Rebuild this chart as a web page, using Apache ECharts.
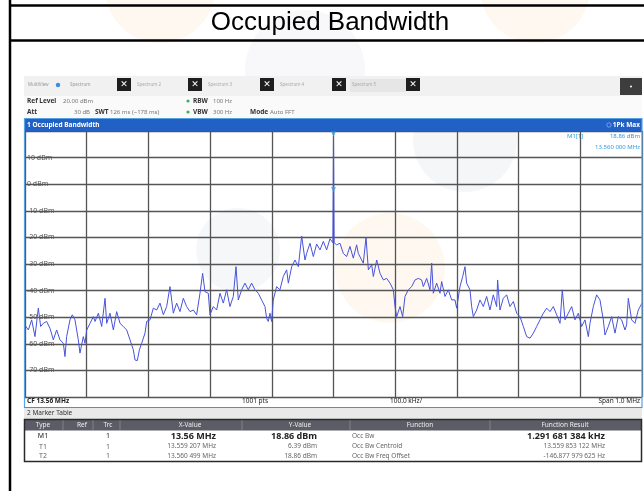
<!DOCTYPE html>
<html>
<head>
<meta charset="utf-8">
<title>Occupied Bandwidth</title>
<script src="https://cdn.jsdelivr.net/npm/echarts@6/dist/echarts.min.js"></script>
<style>
  html, body { margin: 0; padding: 0; background: #fff; }
  #chart { width: 644px; height: 491px; }
</style>
</head>
<body>
<div id="chart"></div>
<script>
// trace 1, offset from CF 13.56 MHz in kHz, level in dBm
const freqKHz = [
  -500, -494.6, -489.2, -483.8, -478.4, -474.6, -470.3, -464.9, -459.5, -454.1,
  -448.7, -443.3, -437.9, -435.2, -432.5, -427.1, -423.3, -419, -413.6, -410.9,
  -405.5, -402.8, -400, -394.6, -389.2, -386.5, -381.1, -375.7, -370.3, -367.6,
  -362.2, -356.8, -351.4, -346, -340.6, -335.2, -332.5, -329.8, -324.4, -321.7,
  -317.9, -314.7, -310.9, -305.5, -302.8, -297.4, -292, -286.6, -281.2, -275.8,
  -270.4, -265, -259.6, -254.2, -248.8, -243.4, -238, -232.6, -227.2, -221.8,
  -216.4, -212.1, -208.3, -202.9, -200.2, -194.8, -189.4, -184, -178.6, -173.2,
  -167.8, -162.4, -158, -154.3, -148.9, -143.5, -138.1, -132.7, -127.3, -121.9,
  -116.5, -111.1, -108.4, -105.7, -103, -100.3, -97.6, -92.2, -86.8, -81.4,
  -75.9, -73.2, -67.8, -62.4, -57, -51.6, -46.2, -43.5, -38.1, -32.7,
  -27.3, -21.9, -16.5, -11.1, -5.7, -1, 0, 1, 5.1, 10.5,
  15.9, 21.3, 26.7, 32.1, 37.5, 40.2, 45.6, 48.3, 52.7, 56.5,
  61.9, 64.6, 70, 75.4, 80.8, 86.2, 91.6, 97, 99.7, 102.4,
  107.8, 112.1, 115.9, 121.3, 126.7, 132.1, 137.5, 142.9, 145.6, 151,
  156.4, 159.1, 161.8, 167.2, 172.6, 175.3, 180.7, 186.1, 191.5, 196.9,
  199.6, 205, 209.4, 213.1, 215.8, 221.2, 223.9, 226.6, 232, 237.4,
  242.8, 248.2, 253.6, 259, 264.4, 266, 269.8, 275.2, 280.6, 286,
  291.5, 296.9, 302.3, 307.7, 313.1, 318.5, 323.9, 329.3, 334.7, 340.1,
  345.5, 350.9, 356.3, 361.7, 367.1, 370.8, 375.2, 380.6, 386, 391.4,
  396.8, 402.2, 407.6, 413, 415.7, 421.1, 426.5, 431.9, 437.3, 440,
  445.4, 450.8, 456.2, 461.6, 467, 472.4, 475.1, 477.8, 483.2, 488.6,
  494, 500
];
const levelDbm = [
  -53, -54.8, -51, -57.3, -46.6, -53.5, -52.3, -51.6, -54.2, -58.5,
  -54.8, -58.5, -59.8, -64.8, -57.3, -51, -49.1, -51, -58.5, -63.5,
  -57.3, -59.8, -54.8, -52.3, -49.8, -51.6, -48.5, -53.5, -42.9, -52.3,
  -48.5, -54.8, -47.9, -52.3, -53.5, -54.8, -54.2, -58.5, -62.3, -66.1,
  -66.3, -62.3, -59.8, -56, -51.6, -51, -46.6, -47.3, -44.7, -49.1,
  -46, -38.5, -48.5, -44.7, -47.9, -42.9, -46, -47.9, -47.3, -49.1,
  -41, -33.5, -40.4, -41, -49.1, -46, -47.3, -41, -44.7, -39.7,
  -46, -42.2, -31, -43.5, -39.7, -37.2, -39.7, -37.2, -39.7, -41,
  -43.5, -46, -50.4, -51.6, -48.5, -51.6, -43.5, -38.5, -39.7, -34.7,
  -32.2, -37.2, -31, -28.5, -31, -19.5, -28.5, -26, -22.2, -27.2,
  -22.5, -24.7, -21.5, -24.7, -20.5, -22, 18.86, -22, -22.8, -22.2,
  -26, -27.2, -23.4, -27.8, -22.8, -26, -28.5, -29.7, -20, -32.2,
  -30.3, -34.7, -28.5, -33.5, -36, -35.4, -37.2, -39.7, -46, -49.8,
  -46, -49.8, -42.2, -39.7, -38.5, -36, -35.4, -36, -38.5, -35.4,
  -39.7, -29.7, -41, -37.2, -41, -36.6, -42.2, -39.7, -43.5, -43.5,
  -46.6, -38.5, -34.7, -31, -37.2, -39.7, -46, -49.8, -47.3, -43.5,
  -46, -42.2, -47.3, -41.6, -46, -36, -47.3, -42.9, -41.6, -46,
  -44.1, -48.5, -49.8, -53.5, -57.3, -57.9, -56, -53.5, -51, -48.5,
  -46.6, -47.9, -46, -49.1, -52.3, -39.7, -51, -48.5, -46, -51,
  -48.5, -53.5, -51, -57.3, -52.3, -46, -41.6, -43.5, -51, -56.7,
  -53.5, -49.8, -56, -49.8, -51, -54.8, -52.9, -42.9, -51, -52.3,
  -47.3, -44.7
];
// marker symbols on the carrier (kHz, dBm) as they sit in the picture
const markerKHz = [0, 0];
const markerDbm = [18.86, -2];

// marker table
const tableHead = ['Type', 'Ref', 'Trc', 'X-Value', 'Y-Value', 'Function', 'Function Result'];
const rowType = ['M1', 'T1', 'T2'];
const rowTrc = ['1', '1', '1'];
const rowX = ['13.56 MHz', '13.559 207 MHz', '13.560 499 MHz'];
const rowY = ['18.86 dBm', '6.39 dBm', '18.86 dBm'];
const rowFunc = ['Occ Bw', 'Occ Bw Centroid', 'Occ Bw Freq Offset'];
const rowResult = ['1.291 681 384 kHz', '13.559 853 122 MHz', '-146.877 979 625 Hz'];

const FONT = '"Noto Sans", "Open Sans", sans-serif';
const chart = echarts.init(document.getElementById('chart'));

function txt(x, y, s, o) {
  o = o || {};
  return {
    type: 'text', x: x, y: y, z: o.z || 20,
    style: {
      text: s,
      fill: o.color || '#444',
      fontSize: o.size || 7,
      fontWeight: o.bold ? 'bold' : 'normal',
      fontFamily: o.family || FONT,
      align: o.align || 'left',
      verticalAlign: 'middle'
    }
  };
}
function rect(x, y, w, h, fill, stroke, lw, z) {
  return {
    type: 'rect', z: z == null ? 5 : z,
    shape: { x: x, y: y, width: w, height: h },
    style: { fill: fill || 'none', stroke: stroke || 'none', lineWidth: lw || 1 }
  };
}
function line(x1, y1, x2, y2, color, lw, z) {
  return {
    type: 'line', z: z == null ? 6 : z,
    shape: { x1: x1, y1: y1, x2: x2, y2: y2 },
    style: { stroke: color, lineWidth: lw }
  };
}
function circ(cx, cy, r, fill) {
  return { type: 'circle', z: -10, shape: { cx: cx, cy: cy, r: r }, style: { fill: fill } };
}

const g = [];
// faint watermark behind the page
g.push(circ(160, -12, 55, '#fef8f1'));
g.push(circ(535, -12, 55, '#fef8f1'));
g.push(circ(305, 70, 60, '#f8f8fa'));
g.push(circ(465, 140, 52, '#f5f6f8'));
g.push(circ(390, 268, 55, '#fef8f1'));
g.push(circ(238, 250, 42, '#f6f7f9'));

// document table lines + title
g.push(line(10, 0, 10, 491, '#000', 2.5));
g.push(line(10, 5.5, 644, 5.5, '#000', 2.5));
g.push(line(10, 40.5, 644, 40.5, '#000', 2.5));
g.push(txt(330, 23, 'Occupied Bandwidth', { size: 26, color: '#000', align: 'center', family: '"Liberation Sans", Arial, sans-serif' }));

// instrument toolbar
g.push(rect(24, 76, 618, 20, '#f1f1f1', null, 1, 1));
g.push(rect(24, 96, 618, 22, '#fafafa', null, 1, 1));
g.push(txt(28, 85, 'MultiView', { size: 4.5, color: '#999' }));
g.push({ type: 'circle', z: 20, shape: { cx: 58, cy: 85, r: 2.2 }, style: { fill: '#3a8ee0' } });
g.push(txt(70, 85, 'Spectrum', { size: 4.5, color: '#999' }));
const tabX = [117, 188, 260, 332, 406];
const tabName = ['Spectrum 2', 'Spectrum 3', 'Spectrum 4', 'Spectrum 5'];
g.push(rect(350, 79, 56, 13, '#e6e6e6', null, 1, 3));
tabX.forEach(function (x, i) {
  g.push(rect(x, 78, 14, 13, '#1e1e1e', null, 1, 10));
  g.push(txt(x + 7, 84.5, '✕', { size: 9, color: '#fff', bold: true, align: 'center', family: '"DejaVu Sans", sans-serif' }));
  if (i < tabName.length) g.push(txt(x + 20, 85, tabName[i], { size: 4.5, color: '#aaa' }));
});
g.push(rect(620, 78, 22, 17, '#3d3d3d', null, 1, 10));
g.push({ type: 'circle', z: 20, shape: { cx: 631, cy: 86.5, r: 1 }, style: { fill: '#fff' } });

g.push(txt(27, 101, 'Ref Level', { size: 6.5, color: '#333', bold: true }));
g.push(txt(63, 101, '20.00 dBm', { size: 6, color: '#777' }));
g.push(txt(27, 112, 'Att', { size: 6.5, color: '#333', bold: true }));
g.push(txt(90, 112, '30 dB', { size: 6, color: '#777', align: 'right' }));
g.push(txt(95, 112, 'SWT', { size: 6.5, color: '#333', bold: true }));
g.push(txt(110, 112, '126 ms (~178 ms)', { size: 6, color: '#777' }));
g.push({ type: 'circle', z: 20, shape: { cx: 188, cy: 101, r: 1.6 }, style: { fill: '#3cb05a' } });
g.push({ type: 'circle', z: 20, shape: { cx: 188, cy: 112, r: 1.6 }, style: { fill: '#3cb05a' } });
g.push(txt(193, 101, 'RBW', { size: 6.5, color: '#333', bold: true }));
g.push(txt(213, 101, '100 Hz', { size: 6, color: '#777' }));
g.push(txt(193, 112, 'VBW', { size: 6.5, color: '#333', bold: true }));
g.push(txt(213, 112, '300 Hz', { size: 6, color: '#777' }));
g.push(txt(250, 112, 'Mode', { size: 6.5, color: '#333', bold: true }));
g.push(txt(270, 112, 'Auto FFT', { size: 6, color: '#777' }));

// window title bar
g.push(rect(24, 118.5, 618, 12.5, '#2160c4', null, 1, 10));
g.push(txt(27, 125, '1 Occupied Bandwidth', { size: 6.5, color: '#fff', bold: true }));
g.push({ type: 'circle', z: 20, shape: { cx: 609, cy: 125, r: 2.2 }, style: { fill: 'none', stroke: '#7fb0ee', lineWidth: 0.8 } });
g.push(txt(640, 125, '1Pk Max', { size: 6.5, color: '#fff', bold: true, align: 'right' }));
g.push(rect(24.5, 118.5, 617.5, 289, null, '#58a2e2', 1.2, 12));

// marker readout
g.push(txt(567, 136, 'M1[1]', { size: 6, color: '#2d9be0' }));
g.push(txt(640, 136, '18.86 dBm', { size: 6, color: '#2d9be0', align: 'right' }));
g.push(txt(640, 147, '13.560 000 MHz', { size: 6, color: '#2d9be0', align: 'right' }));

// footer of the diagram
g.push(txt(27, 401.5, 'CF 13.56 MHz', { size: 6.5, color: '#222', bold: true }));
g.push(txt(242, 401.5, '1001 pts', { size: 6.5, color: '#222' }));
g.push(txt(390, 401.5, '100.0 kHz/', { size: 6.5, color: '#222' }));
g.push(txt(640, 401.5, 'Span 1.0 MHz', { size: 6.5, color: '#222', align: 'right' }));

// marker table
g.push(rect(24, 407, 618, 12, '#e9e9e9', null, 1, 4));
g.push(line(24, 407.5, 642, 407.5, '#4c8fd0', 1.2, 12));
g.push(txt(27, 413.5, '2 Marker Table', { size: 6.5, color: '#333' }));
g.push(rect(24.5, 419.5, 617, 11, '#5c5c66', null, 1, 8));
const headX = [43, 82, 108, 190, 300, 420, 565];
tableHead.forEach(function (h, i) {
  g.push(txt(headX[i], 425, h, { size: 6.5, color: '#eee', align: 'center' }));
});
[63, 93, 120, 242, 350, 490].forEach(function (x) {
  g.push(line(x, 420, x, 430, '#8a8a92', 0.8, 9));
});
g.push(rect(24.5, 419.5, 617, 42, null, '#2a2a2a', 1.5, 12));
const rowYpos = [436, 446.5, 456];
rowType.forEach(function (t, i) {
  const y = rowYpos[i];
  const m = i === 0;
  const c = m ? '#222' : '#666';
  g.push(txt(43, y, t, { size: 7, color: c, align: 'center' }));
  g.push(txt(108, y, rowTrc[i], { size: 7, color: c, align: 'center' }));
  g.push(txt(216, y, rowX[i], { size: m ? 9 : 6.5, color: c, bold: m, align: 'right' }));
  g.push(txt(317, y, rowY[i], { size: m ? 9 : 6.5, color: c, bold: m, align: 'right' }));
  g.push(txt(352, y, rowFunc[i], { size: 6.5, color: '#666' }));
  g.push(txt(605, y, rowResult[i], { size: m ? 9 : 6.5, color: c, bold: m, align: 'right' }));
});

chart.setOption({
  animation: false,
  backgroundColor: 'transparent',
  grid: { left: 25, right: 2, top: 131, bottom: 94, containLabel: false },
  xAxis: {
    type: 'value', min: -500, max: 500, interval: 100,
    axisLine: { show: false }, axisTick: { show: false }, axisLabel: { show: false },
    splitLine: { show: true, lineStyle: { color: '#555', width: 1.3 } }
  },
  yAxis: {
    type: 'value', min: -80, max: 20, interval: 10,
    axisLine: { show: false }, axisTick: { show: false },
    axisLabel: {
      inside: true, margin: 2, color: '#555', fontSize: 7, fontFamily: FONT,
      formatter: function (v) { return (v === 20 || v === -80) ? '' : v + ' dBm'; }
    },
    splitLine: { show: true, lineStyle: { color: '#555', width: 1.3 } }
  },
  series: [
    {
      type: 'line',
      data: freqKHz.map(function (f, i) { return [f, levelDbm[i]]; }),
      symbol: 'none',
      lineStyle: { color: '#4753da', width: 1 },
      z: 5
    },
    {
      type: 'scatter',
      data: markerKHz.map(function (f, i) { return [f, markerDbm[i]]; }),
      symbol: 'triangle', symbolSize: 5, symbolRotate: 180,
      itemStyle: { color: '#3aa0e0' },
      z: 6
    }
  ],
  graphic: g
});
</script>
</body>
</html>
